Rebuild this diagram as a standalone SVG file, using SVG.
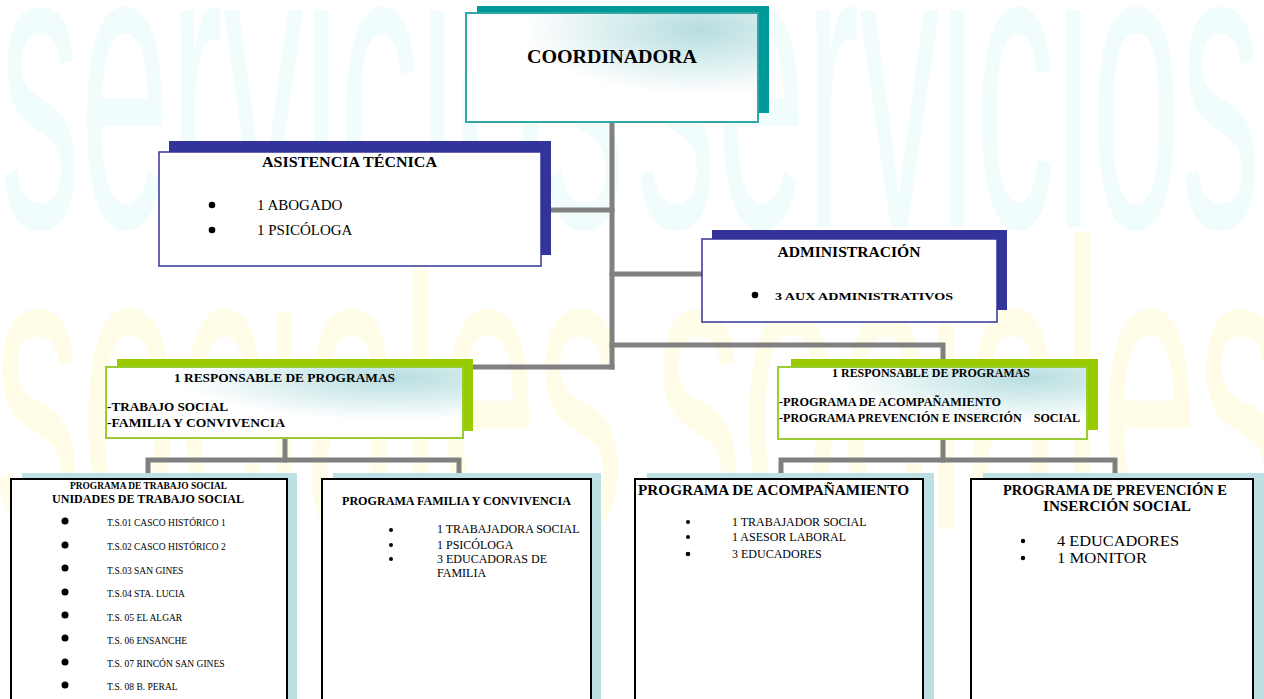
<svg xmlns="http://www.w3.org/2000/svg" width="1264" height="699" viewBox="0 0 1264 699">
<style>
.t{font-family:"Liberation Serif","Times New Roman",serif;fill:#000}
.b{font-weight:bold}
.c{text-anchor:middle}
.wm{font-family:"Liberation Sans",Arial,sans-serif;font-size:100px}
.wc{fill:#f1fcfd}
.wy{fill:#fffde8}
.con{fill:none;stroke:#808080;stroke-width:5;stroke-linecap:square;stroke-linejoin:miter}
.sh-teal{fill:#009999}
.sh-navy{fill:#333399}
.sh-green{fill:#99cc00}
.sh-cyan{fill:#bce0e3}
.fr-navy{fill:#fff;stroke:#333399;stroke-width:1.5}
.fr-black{fill:#fff;stroke:#000;stroke-width:2}
</style>
<defs>
<radialGradient id="rg" cx="0.8" cy="0.15" r="0.6">
<stop offset="0" stop-color="#b7dde0"/>
<stop offset="0.35" stop-color="#cfe9ea"/>
<stop offset="1" stop-color="#ffffff"/>
</radialGradient>
</defs>
<rect x="0" y="0" width="1264" height="699" fill="#fff"/>
<g id="watermark">
<text class="wm wc" transform="matrix(1.607 0 0 4.1 0 227)">servicios</text>
<text class="wm wc" transform="matrix(1.607 0 0 4.1 636 227)">servicios</text>
<text class="wm wy" transform="matrix(1.744 0 0 4.1 -6 529)">sociales</text>
<text class="wm wy" transform="matrix(1.744 0 0 4.1 655 529)">sociales</text>
</g>
<g id="connectors">
<path class="con" d="M612,122 V367"/>
<path class="con" d="M541,210 H612"/>
<path class="con" d="M612,274 H702"/>
<path class="con" d="M473,367 H612"/>
<path class="con" d="M612,345 H943 V359"/>
<path class="con" d="M285,438 V460"/>
<path class="con" d="M148,473 V460 H459 V473"/>
<path class="con" d="M943,439 V460"/>
<path class="con" d="M781,473 V460 H1115 V473"/>
</g>
<g id="coordinadora">
<rect class="sh-teal" x="477" y="6" width="292" height="107"/>
<rect x="466" y="13" width="292" height="109" fill="url(#rg)" stroke="#33a6a6" stroke-width="2"/>
<text class="t b c" x="612" y="63" font-size="19.5" textLength="170" lengthAdjust="spacingAndGlyphs">COORDINADORA</text>
</g>
<g id="asistencia">
<rect class="sh-navy" x="169" y="141" width="382" height="114"/>
<rect class="fr-navy" x="159" y="152" width="382" height="114"/>
<text class="t b c" x="349.5" y="167" font-size="14.5" textLength="175" lengthAdjust="spacingAndGlyphs">ASISTENCIA TÉCNICA</text>
<circle cx="212" cy="205" r="3.3"/>
<circle cx="212" cy="230" r="3.3"/>
<text class="t" x="257" y="210" font-size="15">1 ABOGADO</text>
<text class="t" x="257" y="235" font-size="15">1 PSICÓLOGA</text>
</g>
<g id="administracion">
<rect class="sh-navy" x="712" y="230" width="295" height="80"/>
<rect class="fr-navy" x="702" y="239" width="295" height="83"/>
<text class="t b c" x="849" y="257" font-size="14" textLength="143" lengthAdjust="spacingAndGlyphs">ADMINISTRACIÓN</text>
<circle cx="755" cy="295" r="3.3"/>
<text class="t b" x="775" y="300" font-size="11" textLength="178" lengthAdjust="spacingAndGlyphs">3 AUX ADMINISTRATIVOS</text>
</g>
<g id="responsable-izq">
<rect class="sh-green" x="117" y="359" width="356" height="72"/>
<rect x="106" y="367" width="357" height="71" fill="url(#rg)" stroke="#99cc33" stroke-width="2"/>
<text class="t b c" x="284.5" y="382" font-size="13" textLength="221" lengthAdjust="spacingAndGlyphs">1 RESPONSABLE DE PROGRAMAS</text>
<text class="t b" x="107" y="411" font-size="13" textLength="121" lengthAdjust="spacingAndGlyphs">-TRABAJO SOCIAL</text>
<text class="t b" x="107" y="427" font-size="13" textLength="178" lengthAdjust="spacingAndGlyphs">-FAMILIA Y CONVIVENCIA</text>
</g>
<g id="responsable-der">
<rect class="sh-green" x="791" y="359" width="307" height="71"/>
<rect x="778" y="367" width="309" height="72" fill="url(#rg)" stroke="#99cc33" stroke-width="2"/>
<text class="t b c" x="931" y="377" font-size="12" textLength="198" lengthAdjust="spacingAndGlyphs">1 RESPONSABLE DE PROGRAMAS</text>
<text class="t b" x="779" y="406" font-size="12" textLength="222" lengthAdjust="spacingAndGlyphs">-PROGRAMA DE ACOMPAÑAMIENTO</text>
<text class="t b" x="779" y="422" font-size="12" textLength="301" lengthAdjust="spacingAndGlyphs" style="white-space:pre">-PROGRAMA PREVENCIÓN E INSERCIÓN    SOCIAL</text>
</g>
<g id="trabajo-social">
<rect class="sh-cyan" x="22" y="473" width="275" height="240"/>
<rect class="fr-black" x="11" y="479" width="276" height="240"/>
<text class="t b c" x="148.5" y="489" font-size="9.5" textLength="157" lengthAdjust="spacingAndGlyphs">PROGRAMA DE TRABAJO SOCIAL</text>
<text class="t b c" x="148" y="503" font-size="12" textLength="192" lengthAdjust="spacingAndGlyphs">UNIDADES DE TRABAJO SOCIAL</text>
<g>
<circle cx="65" cy="521" r="3.5"/>
<circle cx="65" cy="545" r="3.5"/>
<circle cx="65" cy="568" r="3.5"/>
<circle cx="65" cy="592" r="3.5"/>
<circle cx="65" cy="615" r="3.5"/>
<circle cx="65" cy="638" r="3.5"/>
<circle cx="65" cy="662" r="3.5"/>
<circle cx="65" cy="685" r="3.5"/>
</g>
<text class="t" x="107" y="526" font-size="9.5">T.S.01 CASCO HISTÓRICO 1</text>
<text class="t" x="107" y="550" font-size="9.5">T.S.02 CASCO HISTÓRICO 2</text>
<text class="t" x="107" y="574" font-size="9.5">T.S.03 SAN GINES</text>
<text class="t" x="107" y="597" font-size="9.5">T.S.04 STA. LUCIA</text>
<text class="t" x="107" y="621" font-size="9.5">T.S. 05 EL ALGAR</text>
<text class="t" x="107" y="644" font-size="9.5">T.S. 06 ENSANCHE</text>
<text class="t" x="107" y="667" font-size="9.5">T.S. 07 RINCÓN SAN GINES</text>
<text class="t" x="107" y="690" font-size="9.5">T.S. 08 B. PERAL</text>
</g>
<g id="familia-convivencia">
<rect class="sh-cyan" x="333" y="473" width="268" height="240"/>
<rect class="fr-black" x="322" y="479" width="269" height="240"/>
<text class="t b" x="342" y="505" font-size="12" textLength="229" lengthAdjust="spacingAndGlyphs">PROGRAMA FAMILIA Y CONVIVENCIA</text>
<circle cx="391" cy="530" r="2"/>
<circle cx="391" cy="545" r="2"/>
<circle cx="391" cy="559" r="2"/>
<text class="t" x="437" y="533" font-size="12">1 TRABAJADORA SOCIAL</text>
<text class="t" x="437" y="549" font-size="12">1 PSICÓLOGA</text>
<text class="t" x="437" y="563" font-size="12">3 EDUCADORAS DE</text>
<text class="t" x="437" y="577" font-size="12">FAMILIA</text>
</g>
<g id="acompanamiento">
<rect class="sh-cyan" x="647" y="473" width="287" height="240"/>
<rect class="fr-black" x="635" y="479" width="288" height="240"/>
<text class="t b" x="638" y="495" font-size="14.5" textLength="271" lengthAdjust="spacingAndGlyphs">PROGRAMA DE ACOMPAÑAMIENTO</text>
<circle cx="688" cy="522" r="2"/>
<circle cx="688" cy="537" r="2"/>
<circle cx="688" cy="554" r="2.3"/>
<text class="t" x="732" y="526" font-size="12">1 TRABAJADOR SOCIAL</text>
<text class="t" x="732" y="541" font-size="12">1 ASESOR LABORAL</text>
<text class="t" x="732" y="558" font-size="12">3 EDUCADORES</text>
</g>
<g id="prevencion-insercion">
<rect class="sh-cyan" x="983" y="473" width="281" height="240"/>
<rect class="fr-black" x="971" y="479" width="282" height="240"/>
<text class="t b c" x="1115" y="495" font-size="14.5" textLength="224" lengthAdjust="spacingAndGlyphs">PROGRAMA DE PREVENCIÓN E</text>
<text class="t b c" x="1117" y="511" font-size="14.5" textLength="148" lengthAdjust="spacingAndGlyphs">INSERCIÓN SOCIAL</text>
<circle cx="1023" cy="541" r="2.2"/>
<circle cx="1023" cy="558" r="2.2"/>
<text class="t" x="1057" y="546" font-size="14" textLength="122" lengthAdjust="spacingAndGlyphs">4 EDUCADORES</text>
<text class="t" x="1057" y="563" font-size="14" textLength="90" lengthAdjust="spacingAndGlyphs">1 MONITOR</text>
</g>
</svg>
